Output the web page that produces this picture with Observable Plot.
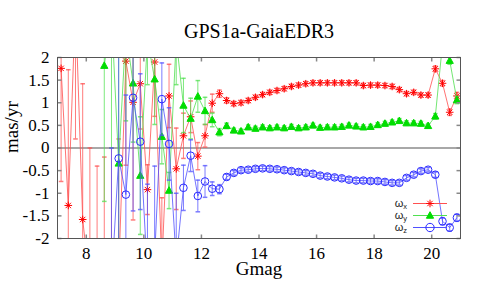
<!DOCTYPE html>
<html><head><meta charset="utf-8">
<script src="https://cdn.jsdelivr.net/npm/d3@7"></script>
<script src="https://cdn.jsdelivr.net/npm/@observablehq/plot@0.6"></script>
<style>body{margin:0;background:#fff}</style>
</head><body><div id="chart"></div>
<script>
const title = "GPS1a-GaiaEDR3";
const xLabel = "Gmag";
const yLabel = "mas/yr";
const xTicks = [8, 10, 12, 14, 16, 18, 20];
const yTicks = [-2, -1.5, -1, -0.5, 0, 0.5, 1, 1.5, 2];

const gmag = [7.125,7.375,7.625,7.875,8.125,8.375,8.625,8.875,9.125,9.375,9.625,9.875,10.125,10.375,10.625,10.875,11.125,11.375,11.625,11.875,12.125,12.375,12.625,12.875,13.125,13.375,13.625,13.875,14.125,14.375,14.625,14.875,15.125,15.375,15.625,15.875,16.125,16.375,16.625,16.875,17.125,17.375,17.625,17.875,18.125,18.375,18.625,18.875,19.125,19.375,19.625,19.875,20.125,20.375,20.625,20.875];

const omegaX = [1.76,-1.27,3.2,-1.58,-3.0,-3.4,-3.2,-3.0,-2.8,1.92,1.01,1.42,-0.92,1.90,-2.6,1.15,-0.46,0.27,0.69,-0.18,0.27,0.99,1.20,1.05,0.98,1.00,1.05,1.12,1.18,1.23,1.27,1.31,1.36,1.39,1.42,1.44,1.44,1.44,1.44,1.44,1.44,1.44,1.38,1.39,1.39,1.38,1.36,1.29,1.20,1.23,1.17,1.17,1.75,1.43,0.79,1.15];
const omegaXErr = [2.5,3,3,3,3,3,3,3,3,2.3,2.6,1.0,0.55,1.2,1.5,0.7,0.9,0.5,0.35,0.3,0.25,0.2,0.08,0.06,0.05,0.05,0.05,0.05,0.05,0.05,0.05,0.05,0.05,0.05,0.05,0.05,0.05,0.05,0.05,0.05,0.05,0.05,0.05,0.05,0.05,0.05,0.05,0.05,0.05,0.05,0.05,0.05,0.06,0.06,0.07,0.08];

const omegaY = [null,null,null,null,null,null,1.82,3.0,-0.34,2.6,1.43,-0.61,2.4,1.52,0.25,-0.94,2.4,0.94,0.65,1.14,0.82,0.62,0.35,0.49,0.39,0.37,0.46,0.43,0.46,0.44,0.46,0.44,0.47,0.44,0.46,0.50,0.45,0.46,0.46,0.47,0.50,0.48,0.46,0.47,0.51,0.54,0.57,0.60,0.55,0.55,0.54,0.49,0.70,2.3,1.93,1.06];
const omegaYErr = [null,null,null,null,null,null,3,3,2.5,2,1.3,1.3,1.0,1.0,0.6,0.4,1.0,0.6,0.45,0.35,0.3,0.15,0.08,0.06,0.05,0.05,0.05,0.05,0.05,0.05,0.05,0.05,0.05,0.05,0.05,0.05,0.05,0.05,0.05,0.05,0.05,0.05,0.05,0.05,0.05,0.05,0.05,0.05,0.05,0.05,0.05,0.05,0.06,0.1,0.08,0.08];

const omegaZ = [null,null,null,null,null,null,null,-3.0,-0.23,-1.03,1.11,0.14,-2.8,-2.4,1.08,0.09,-2.5,-0.88,-0.17,-1.06,-0.74,-0.90,-0.91,-0.64,-0.55,-0.49,-0.48,-0.46,-0.45,-0.46,-0.47,-0.49,-0.51,-0.53,-0.55,-0.57,-0.61,-0.63,-0.65,-0.67,-0.70,-0.72,-0.72,-0.73,-0.73,-0.75,-0.77,-0.77,-0.66,-0.59,-0.51,-0.48,-0.59,-1.62,-1.76,-1.54];
const omegaZErr = [null,null,null,null,null,null,null,3,2.5,2.2,2.5,1.5,2,2,0.8,0.8,1.5,0.5,0.35,0.35,0.35,0.15,0.1,0.06,0.05,0.05,0.05,0.05,0.05,0.05,0.05,0.05,0.05,0.05,0.05,0.05,0.05,0.05,0.05,0.05,0.05,0.05,0.05,0.05,0.05,0.05,0.05,0.05,0.05,0.05,0.05,0.05,0.06,0.08,0.08,0.08];

const seriesNames = ["x", "y", "z"];
const seriesColors = ["#ff0000", "#00dd00", "#0000ff"];
const lineColors = ["#ff5050", "#50e050", "#5050ff"];

// symbols
const rOf = size => Math.sqrt(size / Math.PI);
const starSym = {draw(ctx, size) {const r = rOf(size), d = r * 0.7071;
  ctx.moveTo(-r, 0); ctx.lineTo(r, 0); ctx.moveTo(0, -r); ctx.lineTo(0, r);
  ctx.moveTo(-d, -d); ctx.lineTo(d, d); ctx.moveTo(-d, d); ctx.lineTo(d, -d);}};
const triSym = {draw(ctx, size) {const r = rOf(size);
  ctx.moveTo(0, -r); ctx.lineTo(r * 0.95, r * 0.72); ctx.lineTo(-r * 0.95, r * 0.72); ctx.closePath();}};
const circSym = {draw(ctx, size) {const r = rOf(size); ctx.moveTo(r, 0); ctx.arc(0, 0, r, 0, 2 * Math.PI);}};
const capSym = {draw(ctx, size) {const r = rOf(size); ctx.moveTo(-r, 0); ctx.lineTo(r, 0);}};
const tickUp = {draw(ctx, size) {const r = rOf(size); ctx.moveTo(0, 0); ctx.lineTo(0, -r);}};
const tickDown = {draw(ctx, size) {const r = rOf(size); ctx.moveTo(0, 0); ctx.lineTo(0, r);}};
const tickRight = {draw(ctx, size) {const r = rOf(size); ctx.moveTo(0, 0); ctx.lineTo(r, 0);}};
const tickLeft = {draw(ctx, size) {const r = rOf(size); ctx.moveTo(0, 0); ctx.lineTo(-r, 0);}};

const seriesVals = [omegaX, omegaY, omegaZ];
const seriesErrs = [omegaXErr, omegaYErr, omegaZErr];
const markerDefs = [
  {symbol: starSym, r: 3.8, fill: "none", stroke: seriesColors[0]},
  {symbol: triSym, r: 3.8, fill: seriesColors[1], stroke: seriesColors[1]},
  {symbol: circSym, r: 3.8, fill: "none", stroke: "#2a2aff"}
];

const seriesMarks = [];
seriesVals.forEach((vals, k) => {
  const rows = gmag.map((x, i) => ({x, y: vals[i], e: seriesErrs[k][i]}));
  const pts = rows.filter(d => d.y != null);
  const col = lineColors[k];
  seriesMarks.push(
    Plot.ruleX(pts, {x: "x", y1: d => d.y - d.e, y2: d => d.y + d.e, stroke: col, strokeOpacity: 0.75, strokeWidth: 1, clip: true}),
    Plot.dot(pts, {x: "x", y: d => d.y - d.e, symbol: capSym, r: 2.3, stroke: col, strokeOpacity: 0.75, fill: "none", clip: true}),
    Plot.dot(pts, {x: "x", y: d => d.y + d.e, symbol: capSym, r: 2.3, stroke: col, strokeOpacity: 0.75, fill: "none", clip: true}),
    Plot.line(rows, {x: "x", y: "y", stroke: col, strokeOpacity: 0.8, strokeWidth: 1, clip: true}),
    Plot.dot(pts, {x: "x", y: "y", ...markerDefs[k], strokeWidth: 1, clip: true})
  );
});

const tickColor = "#888";
const chart = Plot.plot({
  width: 480, height: 288,
  marginTop: 57, marginBottom: 50, marginLeft: 57, marginRight: 20,
  style: {fontFamily: "'Liberation Serif', 'Times New Roman', serif", fontSize: "17px", background: "#fff", color: "#000"},
  x: {domain: [7, 21]},
  y: {domain: [-2, 2]},
  marks: [
    Plot.ruleY([0], {stroke: "#a8a8a8", strokeWidth: 2}),
    ...seriesMarks,
    Plot.dot(xTicks, {x: d => d, frameAnchor: "bottom", symbol: tickUp, r: 4, stroke: tickColor, fill: "none"}),
    Plot.dot(xTicks, {x: d => d, frameAnchor: "top", symbol: tickDown, r: 4, stroke: tickColor, fill: "none"}),
    Plot.dot(yTicks, {y: d => d, frameAnchor: "left", symbol: tickRight, r: 4, stroke: tickColor, fill: "none"}),
    Plot.dot(yTicks, {y: d => d, frameAnchor: "right", symbol: tickLeft, r: 4, stroke: tickColor, fill: "none"}),
    Plot.frame({stroke: "#555", strokeOpacity: 1}),
    Plot.axisX({ticks: xTicks, tickSize: 0, tickPadding: 8, tickFormat: d => String(d), label: null}),
    Plot.axisY({ticks: yTicks, tickSize: 0, tickPadding: 8, tickFormat: d => String(d), label: null}),
    Plot.text([title], {text: d => d, frameAnchor: "top", dy: -26, fontSize: 20, lineAnchor: "middle"}),
    Plot.text([xLabel], {text: d => d, frameAnchor: "bottom", dy: 30.5, fontSize: 19, lineAnchor: "middle"}),
    Plot.text([yLabel], {text: d => d, frameAnchor: "left", dx: -45.5, dy: 5, rotate: -90, fontSize: 19, lineAnchor: "middle"})
  ]
});
document.getElementById("chart").appendChild(chart);

// legend (lower right inside the frame)
const svg = d3.select(chart);
const lg = svg.append("g").attr("font-family", "'Liberation Sans', Arial, sans-serif").attr("fill", "#222");
seriesNames.forEach((nm, i) => {
  const yy = 203.5 + i * 12;
  const t = lg.append("text").attr("x", 407).attr("y", yy + 3).attr("text-anchor", "end").attr("font-size", 11);
  t.append("tspan").text("ω");
  t.append("tspan").attr("font-size", 7.5).attr("dy", 2).text(nm);
  lg.append("line").attr("x1", 413).attr("x2", 447).attr("y1", yy).attr("y2", yy)
    .attr("stroke", lineColors[i]).attr("stroke-width", 1);
  const m = markerDefs[i];
  lg.append("path").attr("transform", `translate(430,${yy})`)
    .attr("d", d3.symbol(m.symbol, Math.PI * m.r * m.r * (i === 2 ? 1.2 : 1))())
    .attr("fill", m.fill).attr("stroke", m.stroke);
});
</script>
</body></html>
